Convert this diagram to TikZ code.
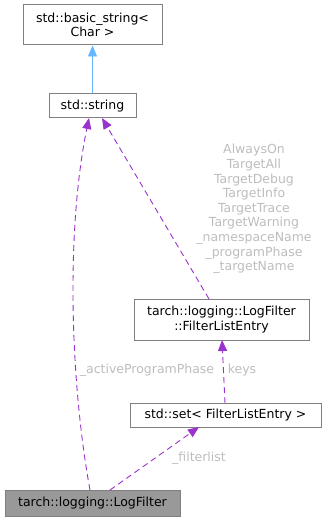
\documentclass[tikz,border=0pt]{standalone}
\usepackage{fontspec}
\setmainfont{DejaVu Sans}
\usetikzlibrary{arrows.meta}
\definecolor{edgepurple}{HTML}{9A32CD}
\definecolor{edgeblue}{HTML}{63B8FF}
\definecolor{labelgray}{HTML}{BDBDBD}
\definecolor{boxline}{HTML}{808080}
\definecolor{focusfill}{HTML}{999999}
\tikzset{
  x=1pt, y=-1pt,
  every node/.style={font=\fontsize{12.5}{14.6}\selectfont},
  classbox/.style={draw=boxline, line width=1pt, fill=white, inner sep=0pt, align=center},
  focusbox/.style={classbox, fill=focusfill},
  member/.style={draw=edgepurple, line width=0.9pt, dashed, dash pattern=on 6pt off 4pt,
    -{Triangle[length=11pt,width=9pt,fill=edgepurple]}},
  inherit/.style={draw=edgeblue, line width=0.9pt,
    -{Triangle[length=11pt,width=9pt,fill=edgeblue]}},
  elabel/.style={text=labelgray, inner sep=0pt, align=center},
}
\begin{document}
\begin{tikzpicture}
\useasboundingbox (0,0) rectangle (327,521);

% class boxes
\node[classbox, minimum width=139pt, minimum height=40pt] (basic) at (92.5,25) {std::basic\_string<\\Char >};
\node[classbox, minimum width=87pt, minimum height=24pt] (str) at (92.5,106) {std::string};
\node[classbox, minimum width=175pt, minimum height=41pt] (entry) at (221.5,319.5) {tarch::logging::LogFilter\\::FilterListEntry};
\node[classbox, minimum width=191pt, minimum height=24pt] (set) at (225.5,415) {std::set< FilterListEntry >};
\node[focusbox, minimum width=175pt, minimum height=26pt] (filter) at (92.5,503) {tarch::logging::LogFilter};

% anchor points on the box borders
\coordinate (strA) at (89,118);
\coordinate (strB) at (102,118);
\coordinate (filterA) at (90,490);
\coordinate (filterB) at (110,490);
\coordinate (setT) at (225,403);
\coordinate (setB) at (199,427);
\coordinate (entryT) at (209,299);
\coordinate (entryB) at (222,340);

% inheritance
\draw[inherit] (str.north) -- (basic.south);

% member relations
\draw[member] (filterA) .. controls (70,380) and (66,230) .. (strA);
\draw[member] (entryT) -- (strB);
\draw[member] (setT) -- (entryB);
\draw[member] (filterB) -- (setB);

% relation labels
\node[elabel] (lblA) at (147,370) {\_activeProgramPhase};
\node[elabel] (lblK) at (242,370) {keys};
\node[elabel] (lblF) at (199,458) {\_filterlist};
\node[elabel] (lblE) at (254,209) {AlwaysOn\\TargetAll\\TargetDebug\\TargetInfo\\TargetTrace\\TargetWarning\\\_namespaceName\\\_programPhase\\\_targetName};
\end{tikzpicture}
\end{document}
